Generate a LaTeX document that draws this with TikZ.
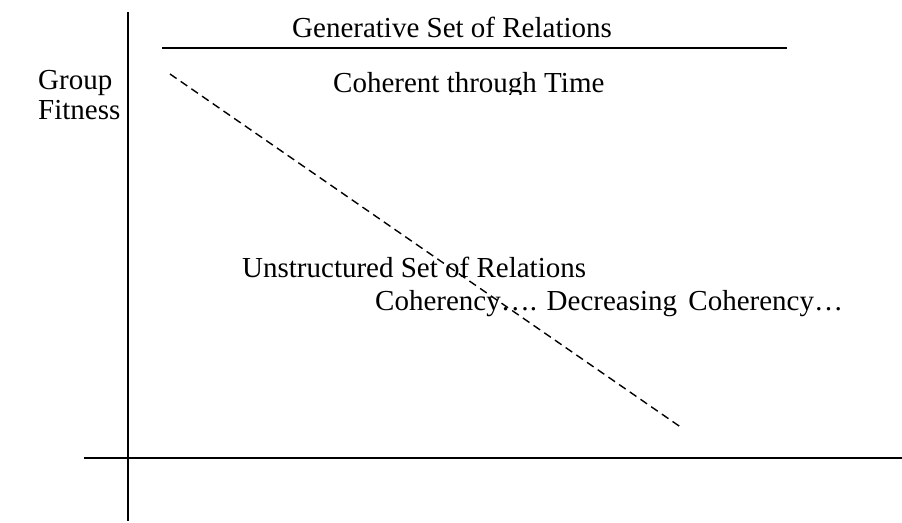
\documentclass[tikz,border=0pt]{standalone}
\usepackage{fontspec}
\setmainfont{Liberation Serif}
\begin{document}
\begin{tikzpicture}[x=1pt,y=-1pt,
  axis/.style={line width=1.7pt,black},
  dashline/.style={line width=1.4pt,dash pattern=on 8pt off 5pt},
  lbl/.style={anchor=base west,inner sep=0pt,font=\fontsize{29}{34}\selectfont}]
\useasboundingbox (0,0) rectangle (902,522);
\fill[white] (0,0) rectangle (902,522);
\coordinate (vt) at (128,12);
\coordinate (vb) at (128,521);
\coordinate (hl) at (84,458);
\coordinate (hr) at (902,458);
\coordinate (tl) at (162,48);
\coordinate (tr) at (787,48);
\coordinate (ds) at (170,74);
\coordinate (de) at (682,428);
\draw[axis] (vt) -- (vb);
\draw[axis] (hl) -- (hr);
\draw[axis] (tl) -- (tr);
\draw[dashline] (ds) -- (de);
\node[lbl] (gen) at (292,37) {Generative Set of Relations};
\begin{scope}
\clip (150,55) rectangle (800,94);
\node[lbl] (coh) at (333,92) {Coherent through Time};
\end{scope}
\node[lbl] (grp) at (38,89) {Group};
\node[lbl] (fit) at (38,119) {Fitness};
\node[lbl] (uns) at (242,277) {Unstructured Set of Relations};
\node[lbl] (dec) at (375,310) {Coherency…. Decreasing\hspace{4pt} Coherency…};
\end{tikzpicture}
\end{document}
